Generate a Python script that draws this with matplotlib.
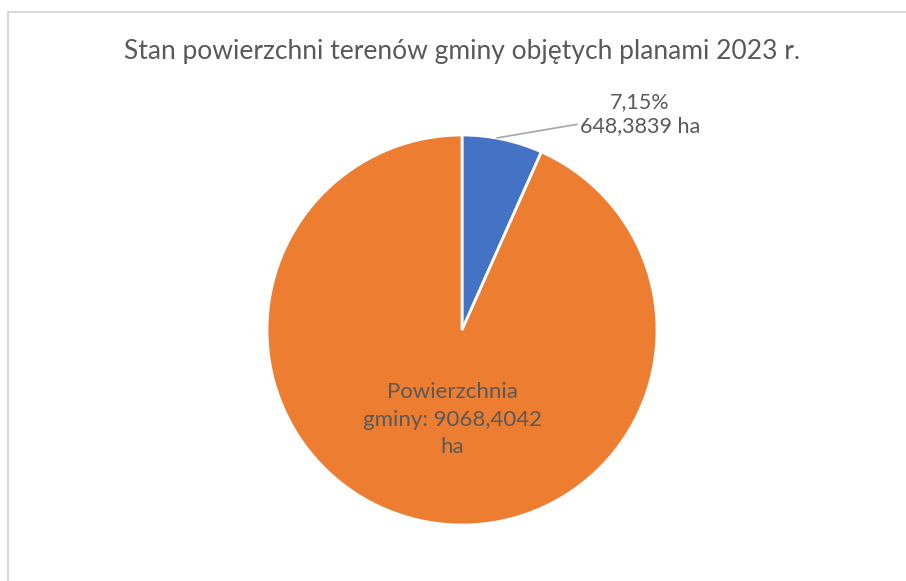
import matplotlib.pyplot as plt
from matplotlib.patches import Rectangle

# dane
kategorie = ["Tereny objęte planami", "Powierzchnia gminy"]
wartosci = [648.3839, 9068.4042]
kolory = ["#4472C4", "#ED7D31"]
tytul = "Stan powierzchni terenów gminy objętych planami 2023 r."

plt.rcParams['font.family'] = ['Lato', 'DejaVu Sans']
szary = "#595959"

fig = plt.figure(figsize=(9.06, 5.81), dpi=100)

# ramka wykresu (jak w Excelu)
fig.patches.append(Rectangle((8/906, -0.1), 1.2, 1 - 12/581 + 0.1,
                             transform=fig.transFigure, fill=False,
                             edgecolor="#d9d9d9", linewidth=1.5))

ax = fig.add_axes([267/906, 56/581, 390/906, 390/581])
wedges, _ = ax.pie(wartosci, colors=kolory, startangle=90, counterclock=False,
                   radius=1, wedgeprops=dict(edgecolor="white", linewidth=2))
ax.set_xlim(-1, 1)
ax.set_ylim(-1, 1)
ax.set_aspect("equal")
ax.axis("off")

fig.text(462/906, 1 - 52/581, tytul, ha="center", va="center",
         fontsize=19, color=szary)

# etykieta malego wycinka
proc = wartosci[0] / wartosci[1] * 100
etykieta = f"{proc:.2f}".replace(".", ",") + "%\n" + f"{wartosci[0]:.4f}".replace(".", ",") + " ha"
ax.annotate(etykieta, xy=(0.18, 0.985), xytext=(640/906, 1 - 114/581),
            textcoords="figure fraction", ha="center", va="center",
            fontsize=15.5, color=szary, linespacing=1.3,
            arrowprops=dict(arrowstyle="-", color="#a6a6a6", lw=1.2,
                            shrinkA=0, shrinkB=0, relpos=(0.0, 0.28)))

# etykieta duzego wycinka
ax.text(-0.05, -0.46, "Powierzchnia\ngminy: " + f"{wartosci[1]:.4f}".replace(".", ",") + "\nha",
        ha="center", va="center", fontsize=16, color=szary, linespacing=1.45)

fig.savefig("out.png", dpi=100, facecolor="white")
